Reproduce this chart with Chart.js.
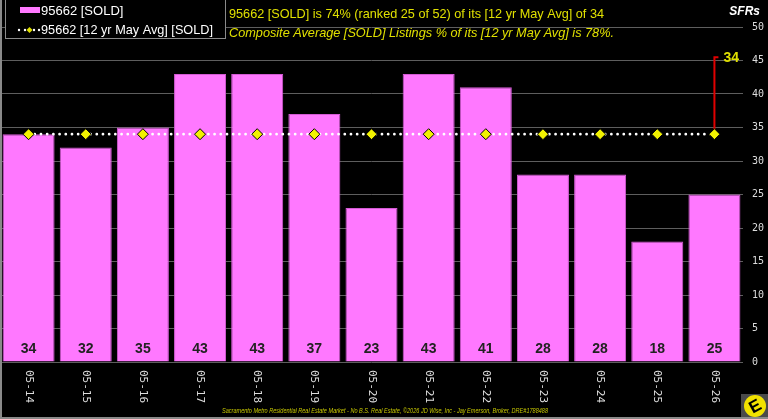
<!DOCTYPE html>
<html>
<head>
<meta charset="utf-8">
<script src="https://cdn.jsdelivr.net/npm/chart.js@4/dist/chart.umd.min.js"></script>
<style>
  html, body { margin: 0; padding: 0; background: #000; }
  #c { display: block; }
</style>
</head>
<body>
<canvas id="c" width="768" height="419"></canvas>
<script>
// ---- data ----
const categories = ['05-14','05-15','05-16','05-17','05-18','05-19','05-20','05-21','05-22','05-23','05-24','05-25','05-26'];
const soldValues = [34, 32, 35, 43, 43, 37, 23, 43, 41, 28, 28, 18, 25];
const avgValues  = [34, 34, 34, 34, 34, 34, 34, 34, 34, 34, 34, 34, 34];
const yTickStep = 5;
const yMax = 50;
const markerTopValue = 45.5;
const markerLabel = '34';
const soldLabel = '95662 [SOLD]';
const avgLabel = '95662 [12 yr May Avg] [SOLD]';
const titleLine1 = '95662 [SOLD] is 74% (ranked 25 of 52) of its [12 yr May Avg] of 34';
const titleLine2 = 'Composite Average [SOLD] Listings % of its [12 yr May Avg] is 78%.';
const unitLabel = 'SFRs';
const footerText = 'Sacramento Metro Residential Real Estate Market - No B.S. Real Estate, \u00A92026 JD Wise, Inc - Jay Emerson, Broker, DRE#1788488';

const PINK = '#ff78ff';
const YELLOW = '#e0e000';

const decorPlugin = {
  id: 'decor',
  beforeDatasetsDraw(chart) {
    const ctx = chart.ctx;
    const xs = chart.scales.x, ys = chart.scales.y;
    const i = categories.length - 1;
    const x = xs.getPixelForValue(i);
    const yTop = ys.getPixelForValue(markerTopValue);
    const yBot = ys.getPixelForValue(avgValues[i]);
    ctx.save();
    ctx.strokeStyle = '#e00000';
    ctx.lineWidth = 2;
    ctx.beginPath();
    ctx.moveTo(x + 4, yTop);
    ctx.lineTo(x, yTop);
    ctx.lineTo(x, yBot);
    ctx.stroke();
    ctx.fillStyle = YELLOW;
    ctx.font = 'bold 14px "Liberation Sans", Arial, sans-serif';
    ctx.textAlign = 'left';
    ctx.textBaseline = 'middle';
    ctx.fillText(markerLabel, x + 9, yTop + 1);
    ctx.restore();
  },
  afterDatasetsDraw(chart) {
    const ctx = chart.ctx;
    const xs = chart.scales.x, ys = chart.scales.y;
    ctx.save();
    ctx.fillStyle = '#222';
    ctx.font = 'bold 14px "Liberation Sans", Arial, sans-serif';
    ctx.textAlign = 'center';
    ctx.textBaseline = 'middle';
    const y0 = ys.getPixelForValue(0);
    soldValues.forEach((v, i) => {
      ctx.fillText(String(v), xs.getPixelForValue(i), y0 - 13);
    });
    ctx.restore();
  },
  afterDraw(chart) {
    const ctx = chart.ctx;
    const xs = chart.scales.x;
    ctx.save();
    ctx.fillStyle = '#dddddd';
    ctx.font = '11px "DejaVu Sans Mono", monospace';
    ctx.textAlign = 'left';
    ctx.textBaseline = 'middle';
    categories.forEach((c, i) => {
      const x = xs.getPixelForValue(i);
      ctx.save();
      ctx.translate(x, 370);
      ctx.rotate(Math.PI / 2);
      ctx.fillText(c, 0, 0);
      ctx.restore();
    });

    // legend box
    ctx.fillStyle = '#000';
    ctx.fillRect(5, 0, 221, 39);
    ctx.strokeStyle = '#8a8a8a';
    ctx.lineWidth = 1;
    ctx.strokeRect(5.5, -0.5, 220, 39);
    ctx.fillStyle = PINK;
    ctx.fillRect(20, 7, 20, 6);
    ctx.fillStyle = '#fff';
    ctx.font = '13px "Liberation Sans", Arial, sans-serif';
    ctx.textBaseline = 'middle';
    ctx.fillText(soldLabel, 41, 11);
    [19, 25, 34, 39].forEach(dx => {
      ctx.beginPath(); ctx.arc(dx, 30, 1.2, 0, Math.PI * 2); ctx.fill();
    });
    ctx.fillStyle = YELLOW;
    ctx.beginPath();
    ctx.moveTo(29.5, 27); ctx.lineTo(32.5, 30); ctx.lineTo(29.5, 33); ctx.lineTo(26.5, 30); ctx.closePath();
    ctx.fill();
    ctx.fillStyle = '#fff';
    ctx.fillText(avgLabel, 41, 30, 172);

    // titles
    ctx.fillStyle = YELLOW;
    ctx.font = '13px "Liberation Sans", Arial, sans-serif';
    ctx.fillText(titleLine1, 229, 14, 375);
    ctx.font = 'italic 13px "Liberation Sans", Arial, sans-serif';
    ctx.fillText(titleLine2, 229, 33, 385);

    // unit label
    ctx.fillStyle = '#fff';
    ctx.font = 'bold italic 12px "Liberation Sans", Arial, sans-serif';
    ctx.textAlign = 'right';
    ctx.fillText(unitLabel, 760, 12);

    // footer
    ctx.fillStyle = '#c8c800';
    ctx.font = 'italic 7px "Liberation Sans", Arial, sans-serif';
    ctx.textAlign = 'left';
    ctx.fillText(footerText, 222, 411, 326);

    // logo
    ctx.fillStyle = '#4a4a4a';
    ctx.fillRect(741, 394, 27, 25);
    ctx.fillStyle = '#f2e200';
    ctx.beginPath(); ctx.arc(755, 406, 11, 0, Math.PI * 2); ctx.fill();
    ctx.save();
    ctx.translate(755, 406);
    ctx.rotate(-0.5);
    ctx.fillStyle = '#000';
    ctx.font = 'bold 17px "Liberation Sans", Arial, sans-serif';
    ctx.textAlign = 'center';
    ctx.textBaseline = 'middle';
    ctx.fillText('E', 0, 1);
    ctx.restore();

    // frame
    ctx.fillStyle = '#8a8a8a';
    ctx.fillRect(0, 0, 2, 419);
    ctx.fillRect(0, 417, 768, 2);
    ctx.restore();
  }
};

new Chart(document.getElementById('c'), {
  data: {
    labels: categories,
    datasets: [
      {
        type: 'line',
        label: avgLabel,
        data: avgValues,
        order: 0,
        borderColor: '#ffffff',
        borderWidth: 2.8,
        borderDash: [0, 6.2],
        borderCapStyle: 'round',
        fill: false,
        tension: 0,
        pointStyle: 'rectRot',
        pointRadius: 5.5,
        pointBackgroundColor: '#f2f200',
        pointBorderColor: '#000',
        pointBorderWidth: 1
      },
      {
        type: 'bar',
        label: soldLabel,
        data: soldValues,
        order: 1,
        backgroundColor: PINK,
        borderColor: '#d45ad4',
        borderWidth: 1,
        categoryPercentage: 1.0,
        barPercentage: 0.91
      }
    ]
  },
  options: {
    responsive: false,
    animation: false,
    devicePixelRatio: 1,
    layout: { autoPadding: false, padding: { top: 27, bottom: 57, left: 0, right: 0 } },
    plugins: {
      legend: { display: false },
      tooltip: { enabled: false }
    },
    scales: {
      x: {
        type: 'category',
        offset: true,
        grid: { display: false, drawTicks: false },
        border: { display: false },
        ticks: { display: false },
        afterFit(scale) { scale.height = 0; scale.paddingLeft = 0; scale.paddingRight = 0; }
      },
      y: {
        position: 'right',
        min: 0,
        max: yMax,
        grid: { color: '#5e5e5e', lineWidth: 1, drawTicks: false },
        border: { display: false },
        ticks: {
          stepSize: yTickStep,
          color: '#dddddd',
          padding: 9,
          font: { family: '"DejaVu Sans Mono", monospace', size: 10 }
        },
        afterFit(scale) { scale.width = 25; }
      }
    }
  },
  plugins: [decorPlugin]
});
</script>
</body>
</html>
